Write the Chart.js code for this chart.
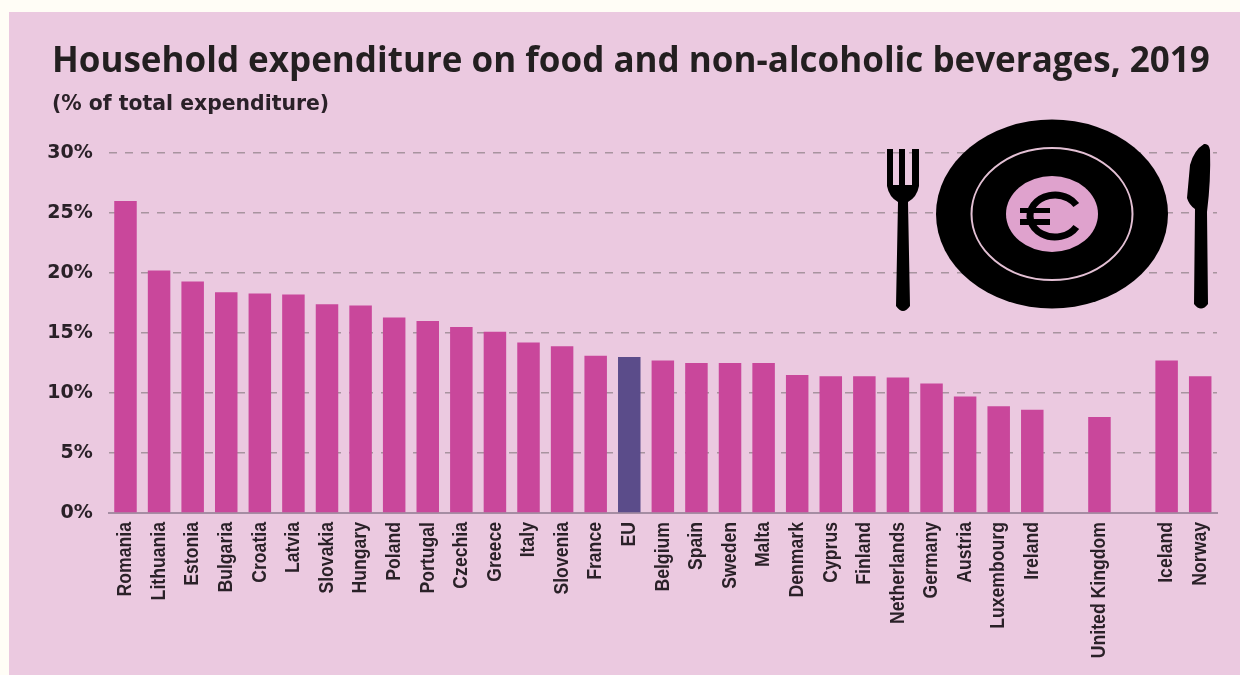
<!DOCTYPE html>
<html>
<head>
<meta charset="utf-8">
<title>Household expenditure on food</title>
<script src="https://cdn.jsdelivr.net/npm/chart.js@4/dist/chart.umd.min.js"></script>
<style>
  html, body { margin: 0; padding: 0; background: #fffdf6; overflow: hidden; }
  #panel { position: absolute; left: 9px; top: 12px; width: 1231px; height: 663px; background: #ebc9e0; }
  #wrap { position: absolute; left: 0; top: 0; width: 1240px; height: 675px; }
</style>
</head>
<body>
<div id="panel"></div>
<div id="wrap"><canvas id="food-chart" width="1240" height="675"></canvas></div>
<script>
// blank labels are the gaps before United Kingdom and before Iceland
var countries = ["Romania", "Lithuania", "Estonia", "Bulgaria", "Croatia", "Latvia", "Slovakia", "Hungary", "Poland", "Portugal", "Czechia", "Greece", "Italy", "Slovenia", "France", "EU", "Belgium", "Spain", "Sweden", "Malta", "Denmark", "Cyprus", "Finland", "Netherlands", "Germany", "Austria", "Luxembourg", "Ireland", "", "United Kingdom", "", "Iceland", "Norway"];
var shares = [26, 20.2, 19.3, 18.4, 18.3, 18.2, 17.4, 17.3, 16.3, 16, 15.5, 15.1, 14.2, 13.9, 13.1, 13, 12.7, 12.5, 12.5, 12.5, 11.5, 11.4, 11.4, 11.3, 10.8, 9.7, 8.9, 8.6, null, 8, null, 12.7, 11.4];
var titleText = "Household expenditure on food and non-alcoholic beverages, 2019";
var subtitleText = "(% of total expenditure)";

var barColor = "#c9479b";
var euColor = "#5b4c8a";
var inkColor = "#2a2128";

// plate, fork and knife picture top right
var tablewarePlugin = {
  id: "tableware",
  beforeDatasetsDraw: function (chart) {
    var c = chart.ctx;
    c.save();
    c.fillStyle = "#000";
    c.beginPath();
    c.ellipse(1052, 214, 116, 94.5, 0, 0, Math.PI * 2);
    c.fill();
    c.strokeStyle = "#e3c0d4";
    c.lineWidth = 2;
    c.beginPath();
    c.ellipse(1052, 214, 80.5, 66, 0, 0, Math.PI * 2);
    c.stroke();
    c.fillStyle = "#dfa2cd";
    c.beginPath();
    c.ellipse(1052, 214, 46, 38, 0, 0, Math.PI * 2);
    c.fill();

    // euro sign
    c.strokeStyle = "#000";
    c.lineWidth = 7;
    c.beginPath();
    c.ellipse(1055, 216, 25, 21, 0, 0.55, Math.PI * 2 - 0.55, false);
    c.stroke();
    c.fillStyle = "#000";
    c.fillRect(1020, 208, 30, 5);
    c.fillRect(1020, 219, 30, 6);

    // fork
    c.beginPath();
    c.moveTo(887, 149);
    c.lineTo(893, 149);
    c.lineTo(893, 185);
    c.lineTo(899, 185);
    c.lineTo(899, 149);
    c.lineTo(905, 149);
    c.lineTo(905, 185);
    c.lineTo(912, 185);
    c.lineTo(912, 149);
    c.lineTo(919, 149);
    c.lineTo(919, 186);
    c.quadraticCurveTo(917, 197, 908, 202);
    c.lineTo(910, 306);
    c.quadraticCurveTo(903, 316, 896, 306);
    c.lineTo(898, 202);
    c.quadraticCurveTo(889, 197, 887, 186);
    c.closePath();
    c.fill();

    // knife
    c.beginPath();
    c.moveTo(1190, 165);
    c.quadraticCurveTo(1194, 150, 1204, 144);
    c.quadraticCurveTo(1209, 143, 1210, 150);
    c.quadraticCurveTo(1211, 180, 1207, 212);
    c.lineTo(1208, 304);
    c.quadraticCurveTo(1201, 313, 1194, 304);
    c.lineTo(1195, 209);
    c.quadraticCurveTo(1189, 205, 1187, 198);
    c.closePath();
    c.fill();
    c.restore();
  }
};

// the reference labels are a condensed face, so squeeze them along the text direction
var narrowLabelsPlugin = {
  id: "narrowLabels",
  // y labels start left of the title, the axis box would clip them otherwise
  afterLayout: function (chart) {
    chart.scales.y.left = 40;
  },
  afterDraw: function (chart) {
    var c = chart.ctx;
    var axis = chart.scales.x;
    c.save();
    c.fillStyle = inkColor;
    c.font = "bold 21px 'Liberation Sans', sans-serif";
    c.textAlign = "right";
    c.textBaseline = "middle";
    axis.ticks.forEach(function (tick, i) {
      c.save();
      c.translate(axis.getPixelForTick(i), axis.top + 9);
      c.rotate(-Math.PI / 2);
      c.scale(0.84, 1);
      c.fillText(countries[i], 0, 0);
      c.restore();
    });
    c.restore();
  }
};

Chart.defaults.font.family = "'Open Sans', sans-serif";

new Chart(document.getElementById("food-chart").getContext("2d"), {
  type: "bar",
  data: {
    labels: countries,
    datasets: [{
      data: shares,
      backgroundColor: countries.map(function (name) { return name === "EU" ? euColor : barColor; }),
      borderWidth: 0,
      barPercentage: 0.67,
      categoryPercentage: 1
    }]
  },
  options: {
    responsive: false,
    animation: false,
    layout: { padding: { left: 52, right: 23, top: 41, bottom: 0 } },
    plugins: {
      legend: { display: false },
      tooltip: { enabled: false },
      title: {
        display: true,
        text: titleText,
        align: "start",
        color: "#231f20",
        font: { size: 35, weight: "bold", family: "'Open Sans', sans-serif" },
        padding: { top: 0, bottom: 9 }
      },
      subtitle: {
        display: true,
        text: subtitleText,
        align: "start",
        color: inkColor,
        font: { size: 20.4, weight: "bold", family: "'DejaVu Sans', sans-serif" },
        padding: { top: 0, bottom: 36.5 }
      }
    },
    scales: {
      x: {
        grid: { display: false },
        border: { display: true, color: "#a58da3", width: 2 },
        ticks: { display: false, autoSkip: false },
        afterFit: function (axis) { axis.height = 162; }
      },
      y: {
        min: 0,
        max: 30,
        grid: {
          drawTicks: false,
          color: function (ctx) { return ctx.tick.value === 0 ? "transparent" : "#a8949f"; },
          lineWidth: 1.5
        },
        border: { display: false, dash: [8, 8] },
        ticks: {
          stepSize: 5,
          padding: 16,
          color: inkColor,
          font: { size: 19, weight: "bold", family: "'DejaVu Sans', sans-serif" },
          callback: function (value) { return value + "%"; }
        },
        afterFit: function (axis) { axis.width = 56.7; }
      }
    }
  },
  plugins: [tablewarePlugin, narrowLabelsPlugin]
});
</script>
</body>
</html>
